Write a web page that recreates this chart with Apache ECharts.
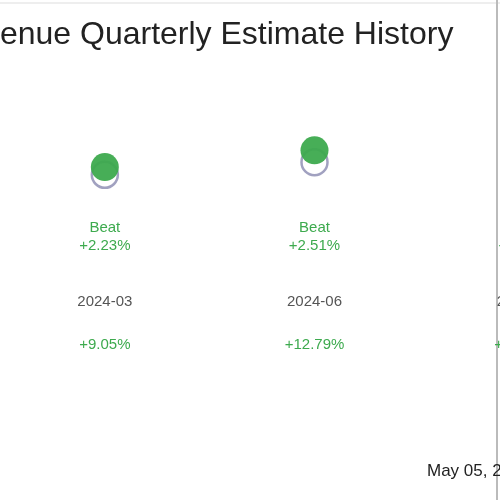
<!DOCTYPE html>
<html><head><meta charset="utf-8">
<script src="https://cdn.jsdelivr.net/npm/echarts@6/dist/echarts.min.js"></script>
<style>html,body{margin:0;padding:0;background:#fff;overflow:hidden}#c{width:700px;height:500px}</style>
</head><body><div id="c"></div>
<script>
const quarters = ["2024-03", "2024-06", "2024-09"];
const estimates = [3.6, 5.4, 6.0];
const actuals = [4.7, 7.1, 7.6];
const surprises = ["+2.23%", "+2.51%", "+2.60%"];
const growths = ["+9.05%", "+12.79%", "+14.10%"];
const green = "#3daa4e";
const chart = echarts.init(document.getElementById('c'));
chart.setOption({
  animation: false,
  title: { text: "Revenue Quarterly Estimate History", left: -62, top: 14,
    textStyle: { fontSize: 32, fontWeight: 'normal', color: '#222', fontFamily: 'Liberation Sans' } },
  grid: { left: -43, right: 71, top: 130, bottom: 300 },
  xAxis: { type: 'category', data: quarters, axisLine: { show: false }, axisTick: { show: false },
    axisLabel: { margin: 19, interval: 0,
      formatter: (v, i) => `{g|Beat}\n{g|${surprises[i]}}\n{s1|}\n{d|${v}}\n{s2|}\n{g|${growths[i]}}`,
      rich: {
        g: { color: green, fontSize: 15, lineHeight: 18, fontFamily: 'Liberation Sans' },
        d: { color: '#555', fontSize: 15, lineHeight: 18, fontFamily: 'Liberation Sans' },
        s1: { lineHeight: 38, height: 38 }, s2: { lineHeight: 25, height: 25 }
      } } },
  yAxis: { type: 'value', min: 0, max: 10, show: false },
  series: [
    { type: 'scatter', data: estimates, symbolSize: 26, z: 1,
      itemStyle: { color: '#fff', borderColor: '#8a8ab0', borderWidth: 2.5 } },
    { type: 'scatter', data: actuals, symbolSize: 28, z: 2, itemStyle: { color: green, opacity: 0.95 } }
  ],
  graphic: [
    { type: 'line', shape: { x1: 0, y1: 3, x2: 500, y2: 3 }, style: { stroke: '#ddd', lineWidth: 1 } },
    { type: 'line', shape: { x1: 497, y1: 0, x2: 497, y2: 500 }, style: { stroke: '#bbb', lineWidth: 2 } },
    { type: 'text', left: 427, top: 463, style: { text: 'May 05, 2024', fontSize: 17, fill: '#222', fontFamily: 'Liberation Sans' } }
  ]
});
</script></body></html>
